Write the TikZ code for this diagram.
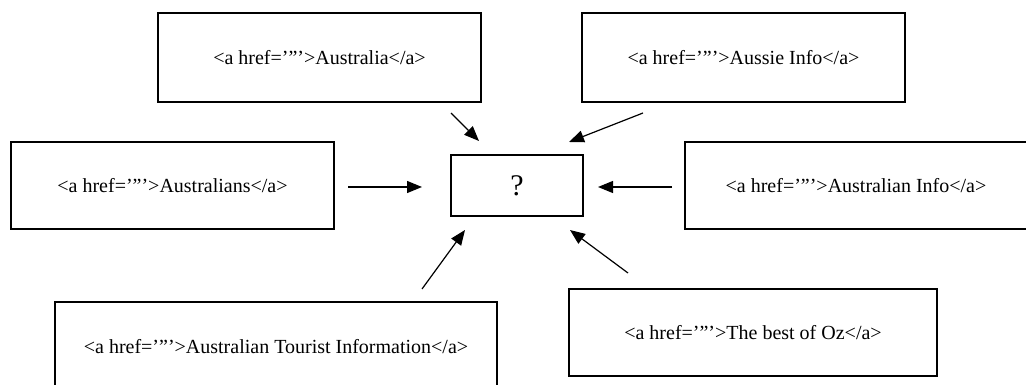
\documentclass[tikz,border=0pt]{standalone}
\usepackage{fontspec}
\setmainfont{Liberation Serif}
\usetikzlibrary{arrows.meta}

\begin{document}
\begin{tikzpicture}
  [x=1pt,y=-1pt,font=\fontsize{20}{23}\selectfont,
   box/.style={draw,line width=1.4pt,inner sep=0pt},
   arr/.style={-{Triangle[length=15pt,width=12pt]},line width=1.2pt}]
  \useasboundingbox (0,0) rectangle (1026,385);
  \node[box,minimum width=323,minimum height=89] (australia) at (319.5,57.5) {<a href=’”’>Australia</a>};
  \node[box,minimum width=323,minimum height=89] (aussie) at (743.5,57.5) {<a href=’”’>Aussie Info</a>};
  \node[box,minimum width=323,minimum height=87] (australians) at (172.5,185.5) {<a href=’”’>Australians</a>};
  \node[box,minimum width=132,minimum height=61,font=\fontsize{30}{34}\selectfont] (q) at (517,185.5) {?};
  \node[box,minimum width=342,minimum height=87] (info) at (856,185.5) {<a href=’”’>Australian Info</a>};
  \node[box,minimum width=442,minimum height=89] (tourist) at (276,346.5) {<a href=’”’>Australian Tourist Information</a>};
  \node[box,minimum width=368,minimum height=87] (oz) at (753,332.5) {<a href=’”’>The best of Oz</a>};

  % arrow ends
  \coordinate (s1) at (451,113); \coordinate (e1) at (479,141);
  \coordinate (s2) at (643,113); \coordinate (e2) at (569,142);
  \coordinate (s3) at (348,187); \coordinate (e3) at (422,187);
  \coordinate (s4) at (672,187); \coordinate (e4) at (598,187);
  \coordinate (s5) at (422,289); \coordinate (e5) at (465,230);
  \coordinate (s6) at (628,273); \coordinate (e6) at (570,230);

  \foreach \from/\to in {s1/e1,s2/e2,s3/e3,s4/e4,s5/e5,s6/e6}
    \draw[arr] (\from) -- (\to);

\end{tikzpicture}
\end{document}
